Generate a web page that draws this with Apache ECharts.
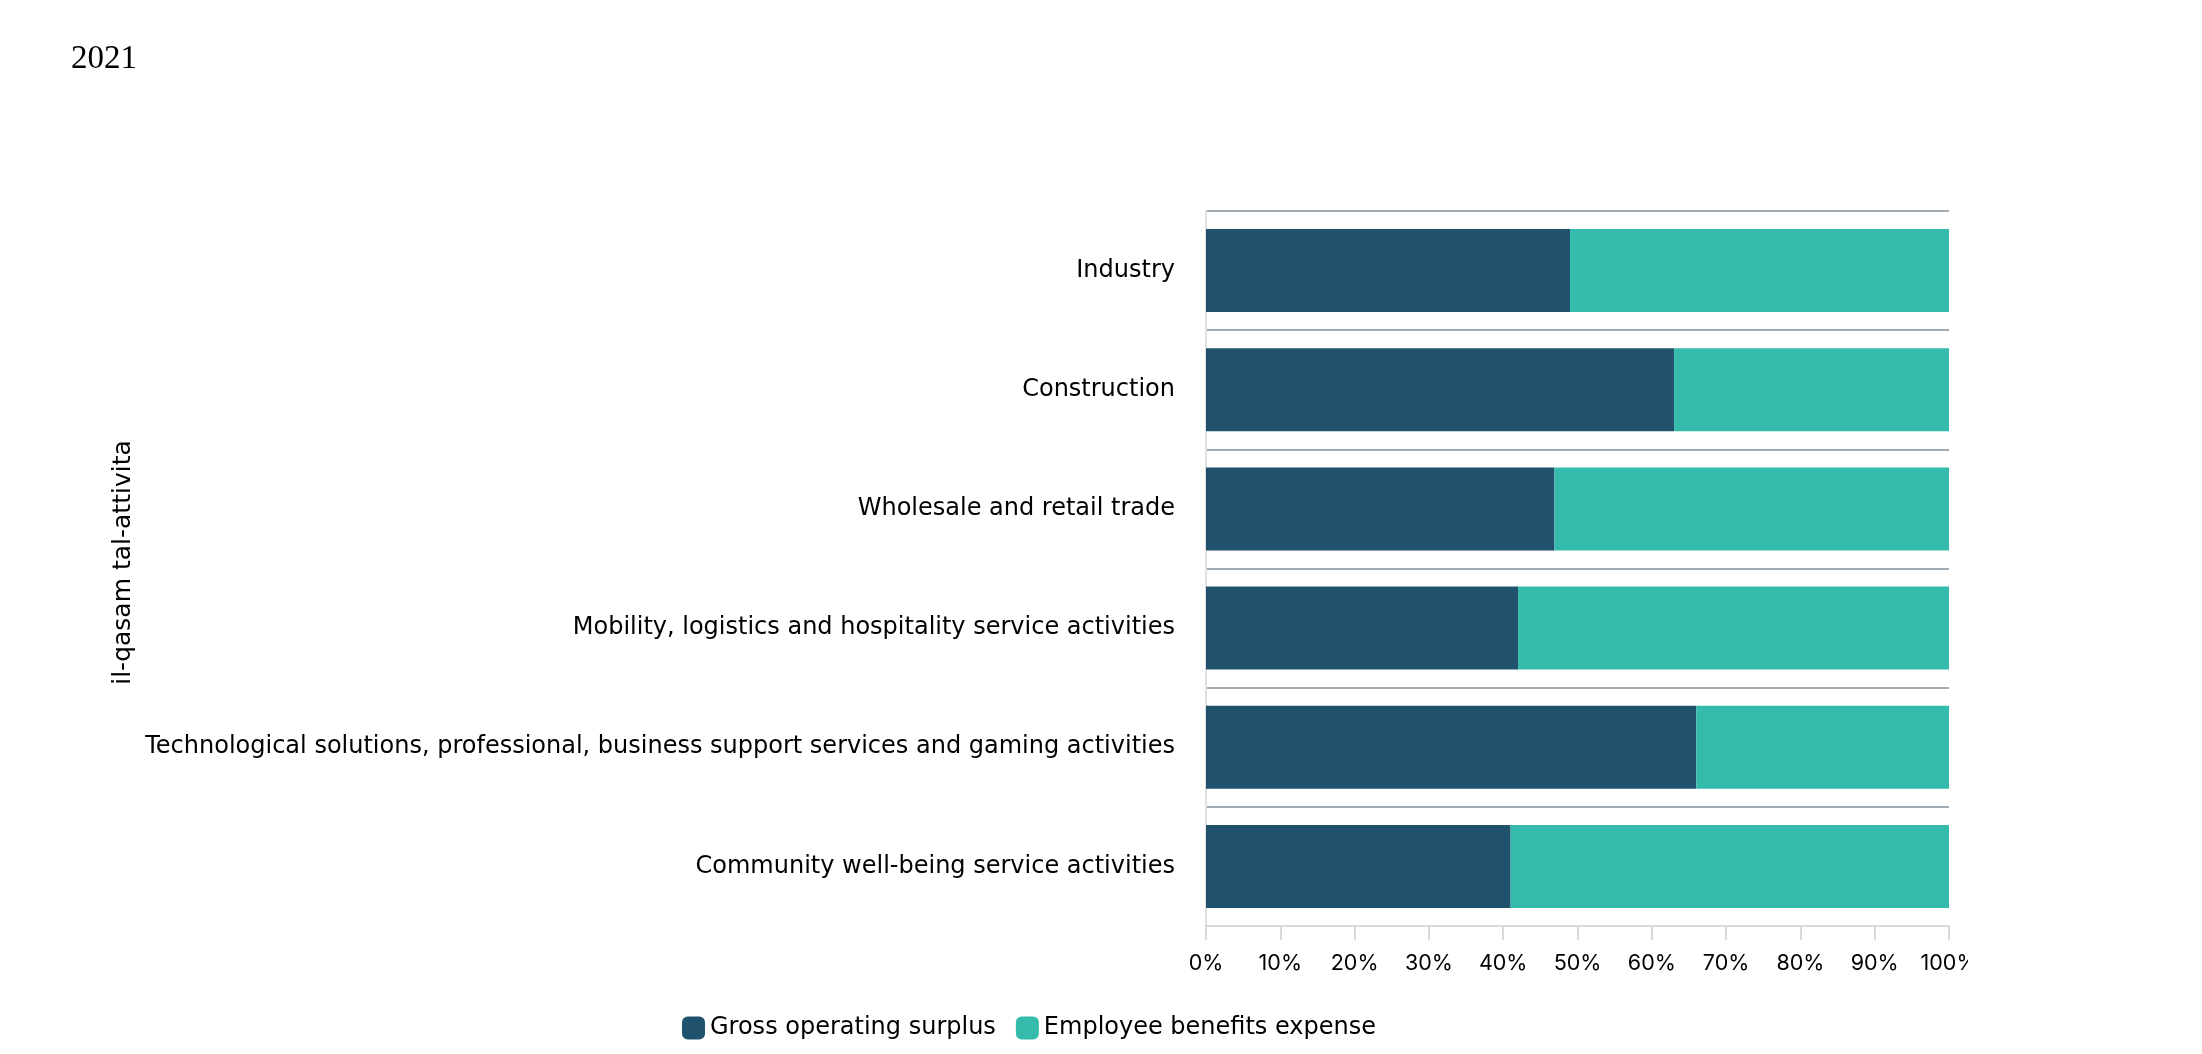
<!DOCTYPE html>
<html>
<head>
<meta charset="utf-8">
<script src="https://cdn.jsdelivr.net/npm/echarts@6/dist/echarts.min.js"></script>
<style>
  html, body { margin: 0; padding: 0; background: #ffffff; }
  #chart { width: 1968px; height: 1054px; }
</style>
</head>
<body>
<div id="chart"></div>
<script>
const categories = [
  'Industry',
  'Construction',
  'Wholesale and retail trade',
  'Mobility, logistics and hospitality service activities',
  'Technological solutions, professional, business support services and gaming activities',
  'Community well-being service activities'
];
const grossOperatingSurplus = [49.0, 63.0, 46.9, 42.0, 66.0, 41.0];
const employeeBenefitsExpense = [51.0, 37.0, 53.1, 58.0, 34.0, 59.0];
const xTickValues = [0, 10, 20, 30, 40, 50, 60, 70, 80, 90, 100];
const seriesNames = ['Gross operating surplus', 'Employee benefits expense'];
const subtitleText = '2021';
const axisNameText = 'il-qasam tal-attivita';

const TEXT_FONT = 'DejaVu Sans';
const TICK_FONT = 'Inter';
const chart = echarts.init(document.getElementById('chart'), null, { renderer: 'canvas' });
chart.setOption({
  backgroundColor: '#ffffff',
  animation: false,
  title: {
    text: subtitleText,
    left: 66,
    top: 38,
    textStyle: { fontFamily: 'Liberation Serif', fontSize: 33, fontWeight: 'normal', color: '#000000' }
  },
  legend: {
    data: seriesNames,
    left: 677,
    top: 1011,
    icon: 'roundRect',
    itemWidth: 23,
    itemHeight: 23,
    itemGap: 20,
    textStyle: { fontFamily: TEXT_FONT, fontSize: 24, color: '#000000' }
  },
  grid: { left: 1206, top: 211, width: 743, height: 715, containLabel: false, outerBoundsMode: 'none' },
  xAxis: {
    type: 'value',
    min: xTickValues[0],
    max: xTickValues[xTickValues.length - 1],
    interval: 10,
    axisLine: { show: true, lineStyle: { color: '#d9d9d9', width: 2 } },
    axisTick: { show: true, length: 14, lineStyle: { color: '#d9d9d9', width: 2 } },
    splitLine: { show: false },
    axisLabel: { formatter: '{value}%', fontFamily: TICK_FONT, fontSize: 21.5, color: '#000000', margin: 27 }
  },
  yAxis: {
    type: 'category',
    inverse: true,
    data: categories,
    name: axisNameText,
    nameLocation: 'middle',
    nameRotate: 90,
    nameGap: 1070,
    nameTextStyle: { fontFamily: TEXT_FONT, fontSize: 25, color: '#000000', padding: [0, 0, 0, 12] },
    axisTick: { show: false },
    axisLine: { show: true, lineStyle: { color: '#e0e0e0', width: 2 } },
    axisLabel: { fontFamily: TEXT_FONT, fontSize: 24, color: '#000000', margin: 31 },
    splitLine: { show: true, lineStyle: { color: '#9eabb5', width: 2 } }
  },
  series: [
    {
      name: seriesNames[0],
      type: 'bar',
      stack: 'total',
      barWidth: 83,
      itemStyle: { color: '#20526E' },
      data: grossOperatingSurplus
    },
    {
      name: seriesNames[1],
      type: 'bar',
      stack: 'total',
      barWidth: 83,
      itemStyle: { color: '#34BBAC' },
      data: employeeBenefitsExpense
    }
  ]
});
</script>
</body>
</html>
